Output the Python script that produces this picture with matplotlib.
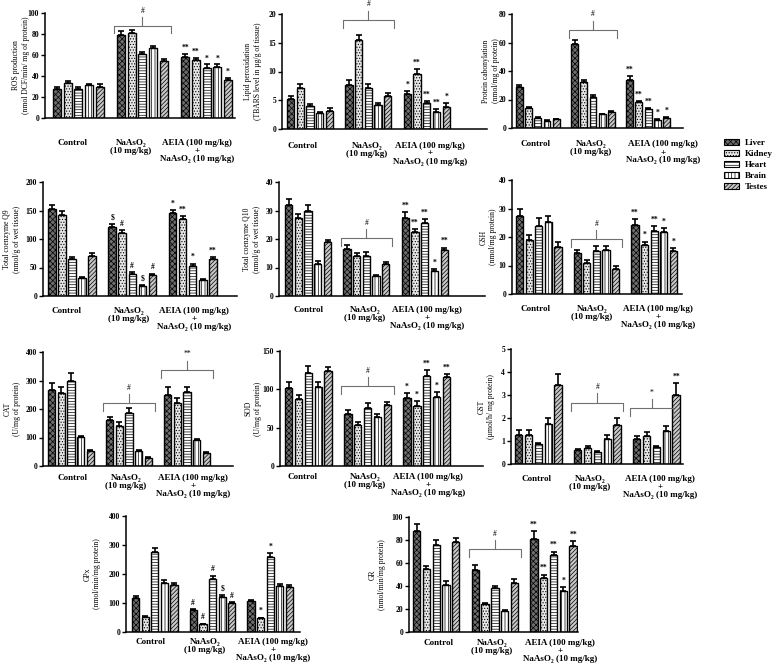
import numpy as np
import matplotlib
matplotlib.use("Agg")
import matplotlib.pyplot as plt
from matplotlib.patches import Patch

plt.rcParams['font.family'] = ['Liberation Serif', 'DejaVu Serif']
plt.rcParams['hatch.linewidth'] = 0.5

organs = ['Liver', 'Kidney', 'Heart', 'Brain', 'Testes']
groups = ['Control', 'NaAsO\u2082\n(10 mg/kg)', 'AEIA (100 mg/kg)\n+\nNaAsO\u2082 (10 mg/kg)']

# rows: Control, NaAsO2, AEIA + NaAsO2 ; columns: organs
ros_mean = [[28, 33, 28, 31, 30], [79, 81, 61, 67, 54], [58, 55, 48, 49, 36]]
ros_err = [[2, 2.5, 1.2, 1.5, 2], [4, 3, 2, 2, 2], [3, 2, 3, 2, 2]]
ros_sig = [['', '', '', '', ''], ['', '', '', '', ''], ['**', '**', '*', '*', '*']]

lpo_mean = [[5.2, 7.2, 4.0, 2.8, 3.2], [7.6, 15.4, 7.2, 4.1, 5.7], [6.1, 9.6, 4.6, 3.0, 3.9]]
lpo_err = [[0.6, 0.6, 0.3, 0.2, 0.4], [0.9, 1.0, 0.6, 0.4, 0.6], [0.5, 0.9, 0.3, 0.4, 0.6]]
lpo_sig = [['', '', '', '', ''], ['', '', '', '', ''], ['*', '**', '**', '**', '*']]

pc_mean = [[28.5, 14, 7, 5, 6], [59, 32, 22, 9.5, 11], [34, 18, 13, 5.5, 7]]
pc_err = [[1.5, 1, 0.7, 0.5, 0.5], [2.5, 1.5, 1, 0.5, 0.7], [2.5, 1, 1, 0.5, 0.8]]
pc_sig = [['', '', '', '', ''], ['', '', '', '', ''], ['**', '**', '**', '*', '*']]

q9_mean = [[152, 142, 65, 31, 71], [121, 110, 39, 18, 36], [145, 135, 53, 28, 65]]
q9_err = [[7, 7, 4, 2, 4], [6, 5, 3, 1, 3], [6, 5, 4, 1, 3]]
q9_sig = [['', '', '', '', ''], ['$', '#', '#', '$', '#'], ['*', '**', '*', '', '**']]

q10_mean = [[32, 27.5, 29.8, 11.2, 19], [16.5, 14.2, 14.2, 7, 11.3], [27.5, 22.3, 25.7, 8.8, 16]]
q10_err = [[2, 1.3, 2, 1, 0.8], [1.5, 1, 1.3, 0.3, 0.8], [2, 1.3, 1.3, 0.5, 1]]
q10_sig = [['', '', '', '', ''], ['', '', '', '', ''], ['**', '**', '**', '*', '**']]

gsh_mean = [[27.5, 19, 24, 25.2, 16.4], [14.3, 11, 15, 15.5, 8.7], [24.3, 17.2, 22, 21.7, 15]]
gsh_err = [[2.3, 1.7, 2.5, 2.2, 2], [1, 1, 1.8, 1.2, 1], [2, 1.2, 2, 1.5, 1.2]]
gsh_sig = [['', '', '', '', ''], ['', '', '', '', ''], ['**', '*', '**', '*', '*']]

cat_mean = [[265, 256, 300, 101, 52], [160, 140, 185, 53, 28], [250, 220, 260, 90, 45]]
cat_err = [[25, 20, 25, 5, 4], [12, 15, 18, 4, 3], [28, 20, 18, 5, 3]]
cat_sig = [['', '', '', '', ''], ['', '', '', '', ''], ['', '', '', '', '']]

sod_mean = [[102, 88, 121, 103, 124], [68, 53, 76, 64, 79], [89, 78, 117, 90, 116]]
sod_err = [[8, 5, 9, 6, 5], [5, 5, 6, 4, 4], [6, 7, 8, 6, 4]]
sod_sig = [['', '', '', '', ''], ['', '', '', '', ''], ['*', '*', '**', '*', '**']]

gst_mean = [[1.25, 1.28, 0.87, 1.72, 3.45], [0.6, 0.7, 0.52, 1.1, 1.7], [1.1, 1.2, 0.73, 1.45, 2.98]]
gst_err = [[0.22, 0.2, 0.05, 0.28, 0.45], [0.06, 0.07, 0.04, 0.18, 0.32], [0.12, 0.2, 0.06, 0.2, 0.55]]
gst_sig = [['', '', '', '', ''], ['', '', '', '', ''], ['', '', '', '', '**']]

gpx_mean = [[118, 51, 276, 170, 161], [75, 27, 182, 122, 100], [107, 47, 260, 159, 154]]
gpx_err = [[6, 3, 12, 10, 9], [4, 2, 12, 5, 4], [4, 3, 12, 8, 8]]
gpx_sig = [['', '', '', '', ''], ['#', '#', '#', '$', '#'], ['', '*', '*', '', '']]

gr_mean = [[88, 55, 76, 41, 78], [54, 24, 38, 18.5, 43], [81, 47, 67, 35.5, 75]]
gr_err = [[6, 2, 4, 3, 4], [4, 1, 2, 1, 3], [7, 3, 3, 3.5, 4]]
gr_sig = [['', '', '', '', ''], ['', '', '', '', ''], ['**', '**', '**', '*', '**']]

face = ['#6e6e6e', '#e6e6e6', 'white', 'white', '#c8c8c8']
hatches = ['xxxxxx', '......', '------', '|||||', '////////']

W, H = 778, 670
fig = plt.figure(figsize=(W / 100, H / 100), dpi=100)


def bracket(ax, g, first, last, y, label, ymax):
    x0 = g * 6 + first - 0.65
    x1 = g * 6 + last + 0.65
    d = 0.07 * ymax
    m = 0.08 * ymax
    ax.plot([x0, x0, x1, x1], [y - d, y, y, y - d], color='#707070', lw=0.8, clip_on=False)
    xc = (x0 + x1) / 2
    ax.plot([xc, xc], [y, y + m], color='#707070', lw=0.8, clip_on=False)
    ax.text(xc, y + m + 0.02 * ymax, label, ha='center', va='bottom', fontsize=5.5, clip_on=False)


def panel(rect, means, errs, sig, ymax, ystep, ylabel, ylab_x, xlim, xpad, label_px, brackets=()):
    l, t, r, b = rect
    ax = fig.add_axes([l / W, 1 - b / H, (r - l) / W, (b - t) / H])
    for i in range(5):
        x = np.arange(3) * 6 + i
        vals = [means[g][i] for g in range(3)]
        e = [errs[g][i] for g in range(3)]
        ax.bar(x, vals, 0.75, color=face[i], hatch=hatches[i], edgecolor='black', linewidth=1.0, zorder=2)
        ax.errorbar(x, vals, yerr=[np.zeros(3), e], fmt='none', ecolor='black',
                    elinewidth=1.2, capsize=2, capthick=1.2, zorder=3)
        for g in range(3):
            if sig[g][i]:
                ax.text(x[g], vals[g] + e[g] + 0.02 * ymax, sig[g][i], ha='center', va='bottom',
                        fontsize=5.5, fontweight='bold', clip_on=False)
    for br in brackets:
        bracket(ax, *br, ymax)
    ax.set_xlim(*xlim)
    ax.set_ylim(0, ymax)
    ax.set_yticks(np.arange(0, ymax + ystep / 2, ystep))
    # group labels placed where the original figure prints them
    ticks = [xlim[0] + (p - l) / (r - l) * (xlim[1] - xlim[0]) for p in label_px]
    ax.set_xticks(ticks)
    ax.set_xticklabels(groups, fontsize=6.5, fontweight='bold', linespacing=1.0)
    ax.tick_params(axis='x', length=0, pad=xpad)
    ax.tick_params(axis='y', length=3, width=1, labelsize=5.5, pad=1.2)
    for lab in ax.get_yticklabels():
        lab.set_fontweight('bold')
    for s in ['top', 'right']:
        ax.spines[s].set_visible(False)
    for s in ['left', 'bottom']:
        ax.spines[s].set_linewidth(1.1)
    ax.set_ylabel(ylabel, fontsize=5.5, va='center', ha='center', linespacing=1.2)
    ax.yaxis.set_label_coords((ylab_x - l) / (r - l), 0.5)
    return ax


panel((45, 13, 235, 118), ros_mean, ros_err, ros_sig, 100, 20,
      'ROS production\n(nmol DCF/min/ mg of protein)', 21, (-1.12, 16.66), 15,
      (73, 131, 197), [(1, 0, 4, 88, '#')])
panel((282, 14, 487, 129), lpo_mean, lpo_err, lpo_sig, 20, 5,
      'Lipid peroxidation\n(TBARS level in \u00b5g/g of tissue)', 253, (-0.89, 20.2), 9,
      (303, 367, 430), [(1, 0, 4, 19, '#')])
panel((512, 14, 683, 128), pc_mean, pc_err, pc_sig, 80, 20,
      'Protein cabonylation\n(nmol/mg of protein)', 491, (-0.81, 17.8), 9,
      (536, 591, 663), [(1, 0, 4, 69, '#')])
panel((43, 182, 237, 296), q9_mean, q9_err, q9_sig, 200, 50,
      'Total coenzyme Q9\n(nmol/g of wet tissue)', 12, (-0.87, 18.4), 8,
      (67, 129, 194))
panel((279, 182, 485, 296), q10_mean, q10_err, q10_sig, 40, 10,
      'Total coenzyme Q10\n(nmol/g of wet tissue)', 252, (-0.99, 20.2), 7,
      (309, 365, 427), [(1, 0, 4, 20.2, '#')])
panel((512, 180, 682, 294), gsh_mean, gsh_err, gsh_sig, 40, 10,
      'GSH\n(nmol/mg protein)', 488, (-0.79, 16.9), 8,
      (536, 592, 658), [(1, 0, 4, 19.2, '#')])
panel((43, 352, 233, 466), cat_mean, cat_err, cat_sig, 400, 100,
      'CAT\n(U/mg of protein)', 12, (-0.89, 18.75), 6,
      (72, 126, 193), [(1, 0, 4, 221, '#'), (2, 0, 4, 338, '**')])
panel((280, 351, 483, 466), sod_mean, sod_err, sod_sig, 150, 50,
      'SOD\n(U/mg of protein)', 253, (-0.88, 19.7), 5,
      (303, 365, 428), [(1, 0, 4, 104, '#')])
panel((511, 349, 683, 464), gst_mean, gst_err, gst_sig, 5, 1,
      'GST\n(\u00b5mol/h/ mg protein)', 486, (-0.78, 16.7), 8,
      (537, 590, 660), [(1, 0, 4, 2.67, '#'), (2, 0, 3, 2.43, '*')])
panel((126, 516, 300, 632), gpx_mean, gpx_err, gpx_sig, 400, 100,
      'GPx\n(nmol/min/mg protein)', 92, (-1.0, 17.1), 4.5,
      (150, 205, 273))
panel((409, 517, 578, 632), gr_mean, gr_err, gr_sig, 100, 20,
      'GR\n(nmol/min/mg protein)', 377, (-0.78, 16.5), 5,
      (438, 492, 560), [(1, 0, 4, 72, '#')])

handles = [Patch(facecolor=face[i], hatch=hatches[i], edgecolor='black', linewidth=0.8, label=organs[i])
           for i in range(5)]
fig.legend(handles=handles, loc='upper left', bbox_to_anchor=(724 / W, 1 - 139 / H), frameon=False,
           prop={'size': 6.5, 'weight': 'bold'}, handlelength=1.7, handleheight=0.7,
           labelspacing=0.3, handletextpad=0.6, borderaxespad=0, borderpad=0)

fig.savefig('out.png', dpi=100)
